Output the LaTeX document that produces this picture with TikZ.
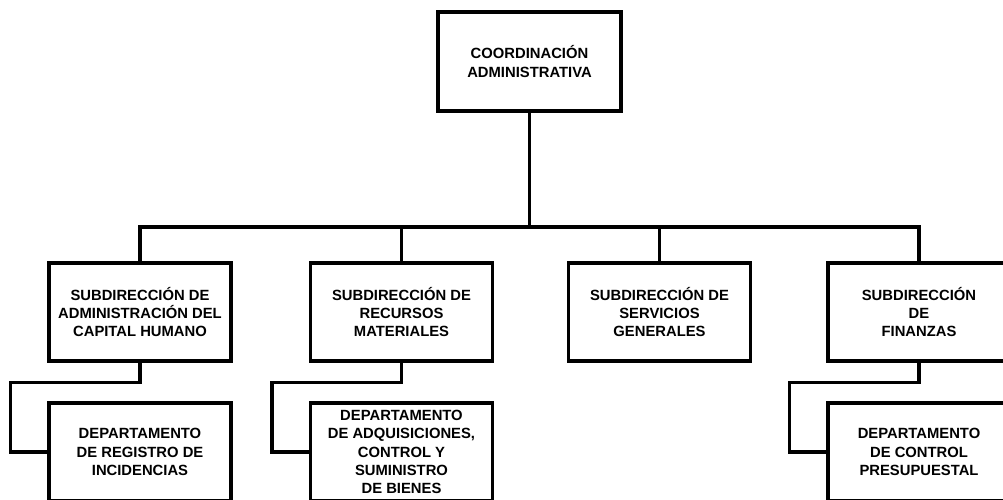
\documentclass[tikz,border=0pt]{standalone}
\usepackage{fontspec}
\setmainfont{Liberation Sans}
\begin{document}
\begin{tikzpicture}[x=1pt,y=-1pt,
  box/.style={draw=black, line width=3.3pt, line join=miter, fill=white,
    minimum width=182pt, minimum height=98pt, inner sep=2pt, align=center,
    font=\bfseries\fontsize{14.8}{18.2}\selectfont},
  conn/.style={draw=black, line width=3.3pt, line join=miter}]
\path[use as bounding box, clip] (0,0) rectangle (1003,499);
\node[box, minimum width=183pt, minimum height=99pt] (top) at (529.5,61.5) {COORDINACIÓN\\ADMINISTRATIVA};
\node[box] (s1) at (140,312) {SUBDIRECCIÓN DE\\ADMINISTRACIÓN DEL\\CAPITAL HUMANO};
\node[box] (s2) at (401.5,312) {SUBDIRECCIÓN DE\\RECURSOS\\MATERIALES};
\node[box] (s3) at (659.5,312) {SUBDIRECCIÓN DE\\SERVICIOS\\GENERALES};
\node[box] (s4) at (919,312) {SUBDIRECCIÓN\\DE\\FINANZAS};
\node[box] (d1) at (140,452) {DEPARTAMENTO\\DE REGISTRO DE\\INCIDENCIAS};
\node[box] (d2) at (401.5,452) {DEPARTAMENTO\\DE ADQUISICIONES,\\CONTROL Y\\SUMINISTRO\\DE BIENES};
\node[box] (d4) at (919,452) {DEPARTAMENTO\\DE CONTROL\\PRESUPUESTAL};
\coordinate (bus) at (529.5,227);
\draw[conn] (top.south) -- (bus);
\draw[conn] (s1.north) -- (s1.north |- bus) -- (s4.north |- bus) -- (s4.north);
\draw[conn] (s2.north) -- (s2.north |- bus);
\draw[conn] (s3.north) -- (s3.north |- bus);
\draw[conn] (s1.south) -- ++(0,20) -| ([xshift=-37pt]d1.west) -- (d1.west);
\draw[conn] (s2.south) -- ++(0,20) -| ([xshift=-37pt]d2.west) -- (d2.west);
\draw[conn] (s4.south) -- ++(0,20) -| ([xshift=-37pt]d4.west) -- (d4.west);
\end{tikzpicture}
\end{document}
